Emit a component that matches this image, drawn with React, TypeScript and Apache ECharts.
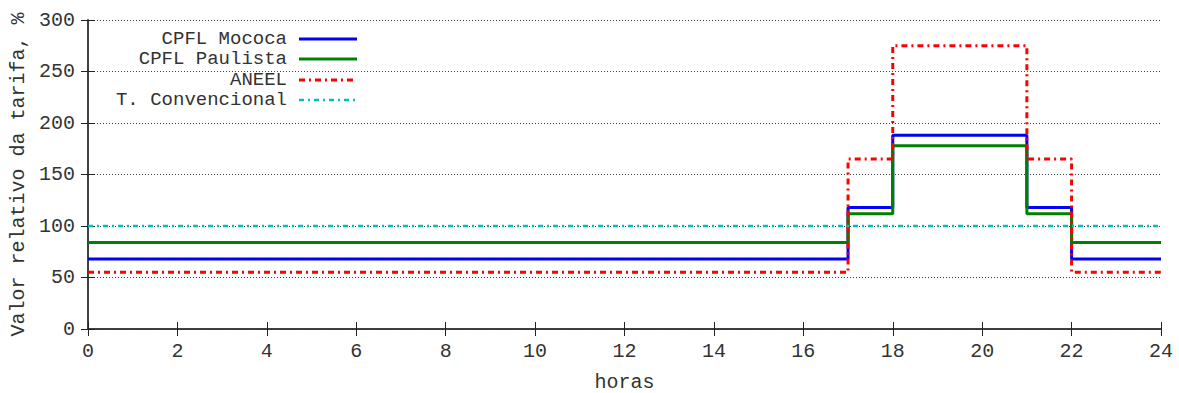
import React, { useEffect, useRef } from "react";
import * as echarts from "echarts";

const hours = [0, 17, 18, 21, 22, 24];
const mococa = [68, 118, 188, 118, 68, 68];
const paulista = [84, 112, 178, 112, 84, 84];
const aneel = [55, 165, 275, 165, 55, 55];
const convencional = [100, 100, 100, 100, 100, 100];
const seriesNames = ["CPFL Mococa", "CPFL Paulista", "ANEEL", "T. Convencional"];
const colors = ["#0000FF", "#008000", "#FF0000", "#00BFBF"];

const FONT = "Liberation Mono";
const FS = 20;

export default function App() {
  const ref = useRef<HTMLDivElement>(null);
  useEffect(() => {
    if (!ref.current) return;
    const chart = echarts.init(ref.current, undefined, { renderer: "svg" });
    const mk = (vals: number[]) => hours.map((h, i) => [h, vals[i]]);
    const styles = [
      { width: 3, type: "solid" as any },
      { width: 3, type: "solid" as any },
      { width: 3, type: [6, 4, 2, 4] as any },
      { width: 2.5, type: [5, 4, 2, 4] as any },
    ];
    const datasets = [mococa, paulista, aneel, convencional];
    const axisLine = { show: true, lineStyle: { color: "#333", width: 1.5 } };
    const tick = { show: true, inside: true, length: 7, lineStyle: { color: "#222" } };
    const legendY = [39, 59, 80, 100];
    const graphic: any[] = [];
    seriesNames.forEach((n, i) => {
      graphic.push({
        type: "text",
        x: 287,
        y: legendY[i],
        style: {
          text: n,
          fill: "#333",
          fontFamily: FONT,
          fontSize: 19,
          lineHeight: 18,
          textAlign: "right",
          textVerticalAlign: "middle",
        },
      });
      graphic.push({
        type: "line",
        shape: { x1: 299, y1: legendY[i], x2: 357, y2: legendY[i] },
        style: {
          stroke: colors[i],
          lineWidth: styles[i].width,
          lineDash: Array.isArray(styles[i].type) ? styles[i].type : null,
        },
      });
    });
    chart.setOption({
      animation: false,
      backgroundColor: "#fff",
      grid: {
        left: 88,
        right: 18,
        top: 20,
        bottom: 64,
        containLabel: false,
        outerBoundsMode: "none",
      },
      xAxis: [
        {
          type: "value",
          min: 0,
          max: 24,
          interval: 2,
          name: "horas",
          nameLocation: "middle",
          nameGap: 43,
          nameTextStyle: { fontFamily: FONT, fontSize: FS, color: "#333" },
          axisLine,
          axisTick: tick,
          axisLabel: { fontFamily: FONT, fontSize: FS, color: "#333", margin: 12 },
          splitLine: { show: false },
        },
        {
          type: "value",
          position: "top",
          min: 0,
          max: 24,
          interval: 2,
          axisLine,
          axisTick: tick,
          axisLabel: { show: false },
          splitLine: { show: false },
        },
      ],
      yAxis: [
        {
          type: "value",
          min: 0,
          max: 300,
          interval: 50,
          name: "Valor relativo da tarifa, %",
          nameLocation: "middle",
          nameGap: 60,
          nameRotate: 90,
          nameTextStyle: { fontFamily: FONT, fontSize: FS, color: "#333" },
          axisLine,
          axisTick: tick,
          axisLabel: { fontFamily: FONT, fontSize: FS, color: "#333", margin: 13 },
          splitLine: { show: true, lineStyle: { color: "#444", type: [1, 2], width: 1 } },
        },
        {
          type: "value",
          position: "right",
          min: 0,
          max: 300,
          interval: 50,
          axisLine,
          axisTick: tick,
          axisLabel: { show: false },
          splitLine: { show: false },
        },
      ],
      series: datasets.map((d, i) => ({
        name: seriesNames[i],
        type: "line",
        step: "end",
        data: mk(d),
        symbol: "none",
        xAxisIndex: 0,
        yAxisIndex: 0,
        lineStyle: { color: colors[i], width: styles[i].width, type: styles[i].type },
        itemStyle: { color: colors[i] },
        z: 3 + i,
      })),
      graphic,
    });
    return () => chart.dispose();
  }, []);
  return (
    <div
      ref={ref}
      style={{ position: "fixed", left: 0, top: 0, width: 1179, height: 393 }}
    />
  );
}
